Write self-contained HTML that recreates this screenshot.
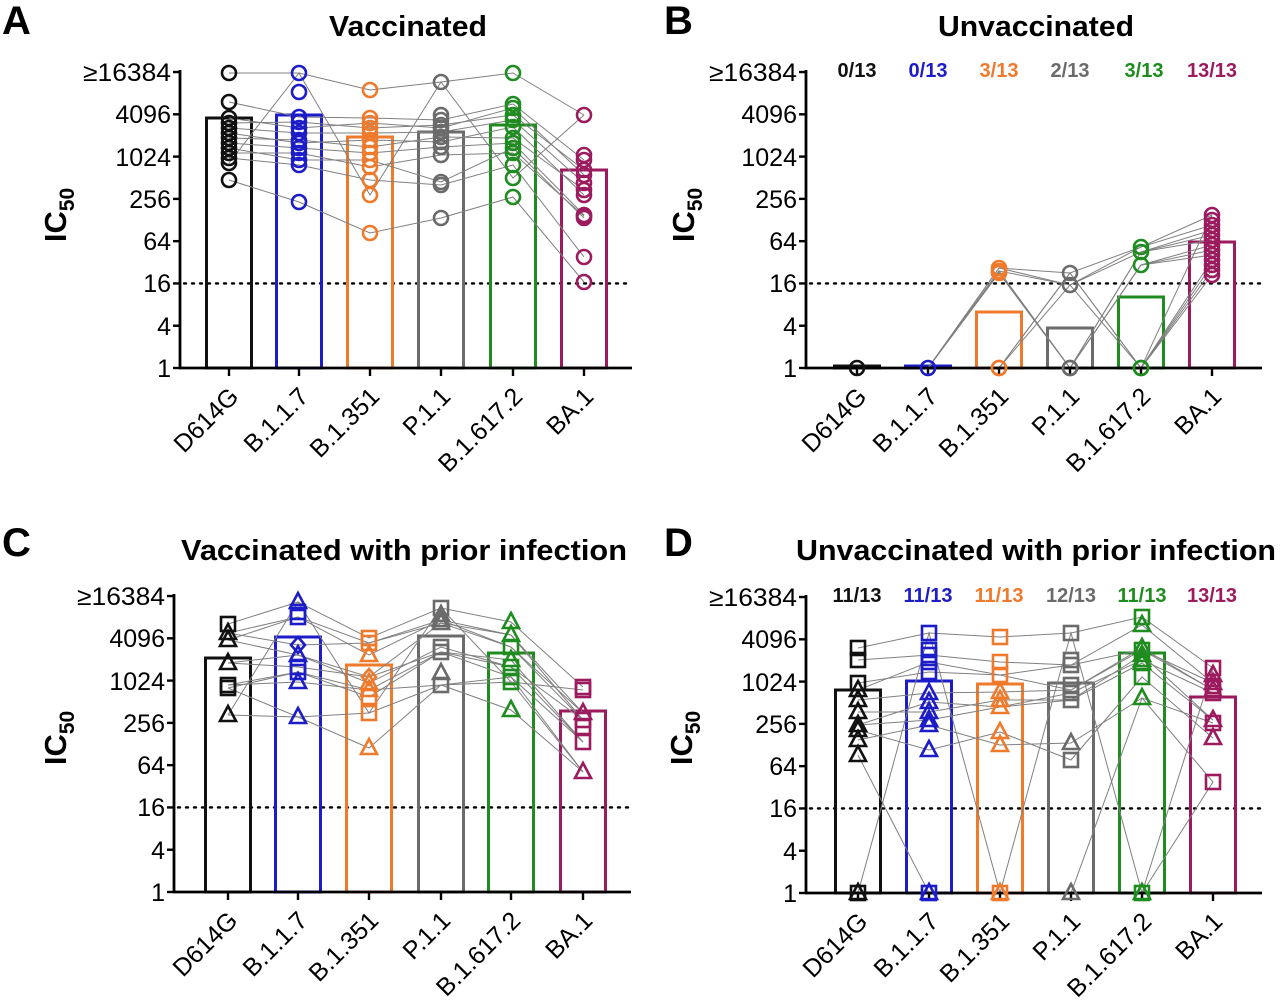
<!DOCTYPE html>
<html><head><meta charset="utf-8"><style>
html,body{margin:0;padding:0;background:#fff;}
svg{display:block;font-family:"Liberation Sans",Arial,sans-serif;}
.tk{font-size:25px;text-anchor:end;}
.xl{font-size:25px;text-anchor:end;}
.ttl{font-size:29px;font-weight:bold;text-anchor:middle;}
.let{font-size:40px;font-weight:bold;}
.ic{font-size:31px;font-weight:bold;text-anchor:middle;}
.cnt{font-size:20px;font-weight:bold;text-anchor:middle;}
</style></head><body>
<svg id="s" width="1280" height="1005" viewBox="0 0 1280 1005" xmlns="http://www.w3.org/2000/svg">
<rect width="1280" height="1005" fill="#fff"/>
<g id="dyn"></g>
<text class="let" x="2" y="34">A</text>
<text class="let" x="664" y="34">B</text>
<text class="let" x="2" y="556">C</text>
<text class="let" x="664" y="556">D</text>
<text class="ttl" x="408" y="36" textLength="158" lengthAdjust="spacingAndGlyphs">Vaccinated</text>
<text class="ttl" x="1036" y="36" textLength="196" lengthAdjust="spacingAndGlyphs">Unvaccinated</text>
<text class="ttl" x="404" y="560" textLength="446" lengthAdjust="spacingAndGlyphs">Vaccinated with prior infection</text>
<text class="ttl" x="1036" y="560" textLength="480" lengthAdjust="spacingAndGlyphs">Unvaccinated with prior infection</text>
<text class="ic" transform="translate(66,215) rotate(-90)">IC<tspan font-size="21" dy="8">50</tspan></text>
<text class="ic" transform="translate(694,215) rotate(-90)">IC<tspan font-size="21" dy="8">50</tspan></text>
<text class="ic" transform="translate(66,738) rotate(-90)">IC<tspan font-size="21" dy="8">50</tspan></text>
<text class="ic" transform="translate(692,738) rotate(-90)">IC<tspan font-size="21" dy="8">50</tspan></text>

<g transform="translate(180,368)">
<text class="tk" x="-9" y="9">1</text><text class="tk" x="-9" y="-33">4</text><text class="tk" x="-9" y="-76">16</text><text class="tk" x="-9" y="-118">64</text><text class="tk" x="-9" y="-160">256</text><text class="tk" x="-9" y="-202">1024</text><text class="tk" x="-9" y="-245">4096</text><text class="tk" x="-9" y="-287" textLength="88" lengthAdjust="spacingAndGlyphs">≥16384</text>
</g>
<g transform="translate(806,368)">
<text class="tk" x="-9" y="9">1</text><text class="tk" x="-9" y="-33">4</text><text class="tk" x="-9" y="-76">16</text><text class="tk" x="-9" y="-118">64</text><text class="tk" x="-9" y="-160">256</text><text class="tk" x="-9" y="-202">1024</text><text class="tk" x="-9" y="-245">4096</text><text class="tk" x="-9" y="-287" textLength="88" lengthAdjust="spacingAndGlyphs">≥16384</text>
</g>
<g transform="translate(174,892)">
<text class="tk" x="-9" y="9">1</text><text class="tk" x="-9" y="-33">4</text><text class="tk" x="-9" y="-76">16</text><text class="tk" x="-9" y="-118">64</text><text class="tk" x="-9" y="-160">256</text><text class="tk" x="-9" y="-202">1024</text><text class="tk" x="-9" y="-245">4096</text><text class="tk" x="-9" y="-287" textLength="88" lengthAdjust="spacingAndGlyphs">≥16384</text>
</g>
<g transform="translate(806,893)">
<text class="tk" x="-9" y="9">1</text><text class="tk" x="-9" y="-33">4</text><text class="tk" x="-9" y="-76">16</text><text class="tk" x="-9" y="-118">64</text><text class="tk" x="-9" y="-160">256</text><text class="tk" x="-9" y="-202">1024</text><text class="tk" x="-9" y="-245">4096</text><text class="tk" x="-9" y="-287" textLength="88" lengthAdjust="spacingAndGlyphs">≥16384</text>
</g>

<g>
<text class="xl" transform="translate(240,398) rotate(-45)">D614G</text>
<text class="xl" transform="translate(310,398) rotate(-45)">B.1.1.7</text>
<text class="xl" transform="translate(381,398) rotate(-45)">B.1.351</text>
<text class="xl" transform="translate(452,398) rotate(-45)">P.1.1</text>
<text class="xl" transform="translate(524,398) rotate(-45)">B.1.617.2</text>
<text class="xl" transform="translate(595,398) rotate(-45)">BA.1</text>

<text class="xl" transform="translate(868,398) rotate(-45)">D614G</text>
<text class="xl" transform="translate(939,398) rotate(-45)">B.1.1.7</text>
<text class="xl" transform="translate(1010,398) rotate(-45)">B.1.351</text>
<text class="xl" transform="translate(1081,398) rotate(-45)">P.1.1</text>
<text class="xl" transform="translate(1152,398) rotate(-45)">B.1.617.2</text>
<text class="xl" transform="translate(1223,398) rotate(-45)">BA.1</text>

<text class="xl" transform="translate(239,922) rotate(-45)">D614G</text>
<text class="xl" transform="translate(309,922) rotate(-45)">B.1.1.7</text>
<text class="xl" transform="translate(380,922) rotate(-45)">B.1.351</text>
<text class="xl" transform="translate(452,922) rotate(-45)">P.1.1</text>
<text class="xl" transform="translate(522,922) rotate(-45)">B.1.617.2</text>
<text class="xl" transform="translate(594,922) rotate(-45)">BA.1</text>

<text class="xl" transform="translate(869,923) rotate(-45)">D614G</text>
<text class="xl" transform="translate(940,923) rotate(-45)">B.1.1.7</text>
<text class="xl" transform="translate(1011,923) rotate(-45)">B.1.351</text>
<text class="xl" transform="translate(1082,923) rotate(-45)">P.1.1</text>
<text class="xl" transform="translate(1153,923) rotate(-45)">B.1.617.2</text>
<text class="xl" transform="translate(1224,923) rotate(-45)">BA.1</text>
</g>

<text class="cnt" x="857" y="77" fill="#111">0/13</text>
<text class="cnt" x="928" y="77" fill="#1c1cc8">0/13</text>
<text class="cnt" x="999" y="77" fill="#ef7a2c">3/13</text>
<text class="cnt" x="1070" y="77" fill="#6b6b6b">2/13</text>
<text class="cnt" x="1144" y="77" fill="#1e8c1e">3/13</text>
<text class="cnt" x="1212" y="77" fill="#9c1b5f">13/13</text>

<text class="cnt" x="857" y="602" fill="#111">11/13</text>
<text class="cnt" x="928" y="602" fill="#1c1cc8">11/13</text>
<text class="cnt" x="999" y="602" fill="#ef7a2c">11/13</text>
<text class="cnt" x="1071" y="602" fill="#6b6b6b">12/13</text>
<text class="cnt" x="1142" y="602" fill="#1e8c1e">11/13</text>
<text class="cnt" x="1212" y="602" fill="#9c1b5f">13/13</text>
</svg>
<script>
(function(){
var NS="http://www.w3.org/2000/svg";
var g=document.getElementById("dyn");
var C=['#111','#1c1cc8','#ef7a2c','#6b6b6b','#1e8c1e','#9c1b5f'];
function el(n,a){var e=document.createElementNS(NS,n);for(var k in a)e.setAttribute(k,a[k]);g.appendChild(e);return e;}
var P=[
{ax:180,yb:368,xe:632,cols:[229,299,370,441,513,584],bars:[118,115,137,132,125,170],
 pts:[[73,102,118,123,128,133,138,143,148,153,158,163,180],[73,92,117,122,133,148,153,160,165,202,128,140,143],[90,118,123,128,133,140,147,153,160,167,180,195,233],[82,115,120,125,132,137,142,155,182,185,218,128,147],[73,104,108,115,127,138,143,148,153,165,178,197,120],[115,155,160,170,183,195,215,218,257,282,175,190,216]],shape:'c'},
{ax:806,yb:368,xe:1262,cols:[857,928,999,1070,1141,1212],bars:[366,366,312,328,297,242],
 pts:[[368],[368],[268,271,273,368,368],[273,285,368,368],[247,252,265,368,368],[215,220,225,230,235,240,245,250,255,260,265,270,275]],shape:'c'},
{ax:174,yb:892,xe:631,cols:[228,298,369,441,511,583],bars:[658,637,665,636,653,711],
 pts:[['s624','t633','t640','t663','s685','s688','t715'],['t602','s612','s617','d645','t655','s667','s672','t682','t717'],['s638','s643','t655','d677','t683','t690','s697','s713','t748'],['s608','t615','t620','t623','s647','s652','t673','s685'],['t622','t635','s647','t660','s667','s677','s682','t710'],['s687','s690','t713','s720','s727','s742','t772']]},
{ax:806,yb:893,xe:1262,cols:[858,929,1000,1071,1142,1213],bars:[690,681,684,683,653,697],
 pts:[['s648','s660','s683','t690','t700','t712','t725','t730','t740','t755','s893','t893'],['s633','s650','s655','s662','s672','t693','t702','t712','t720','t725','t750','s893','t893'],['s637','s662','s675','t692','t700','t707','t732','t745','s893','t893'],['s633','s660','s665','s685','s693','s700','t743','s760','t893','s690'],['s617','t625','t648','t655','t660','t663','s677','t698','s893','t893','s650'],['s668','t675','t683','t690','s693','t720','s723','t738','s782','s686']]}
];
P.forEach(function(p){
 var s=21.14;
 el('line',{x1:p.ax+4,x2:p.xe,y1:p.yb-4*s,y2:p.yb-4*s,stroke:'#000','stroke-width':2.4,'stroke-dasharray':'2 6','stroke-linecap':'round'});
 p.cols.forEach(function(cx,i){
  el('rect',{x:cx-22.5,y:p.bars[i],width:45,height:Math.max(p.yb-p.bars[i],1),fill:'none',stroke:C[i],'stroke-width':3});
 });
 var cols=p.pts.map(function(a){return a.map(function(v){return typeof v==='number'?{s:'c',y:v}:{s:v[0],y:+v.slice(1)};}).sort(function(a,b){return a.y-b.y;});});
 var N=13;
 for(var k=0;k<N;k++){
  var d='';
  cols.forEach(function(c,i){var idx=Math.round(k*(c.length-1)/(N-1));var pt=c[(idx+(i%2?k%3:0))%c.length];d+=(i?'L':'M')+p.cols[i]+' '+pt.y;});
  el('path',{d:d,fill:'none',stroke:'#808080','stroke-width':1});
 }
 el('line',{x1:p.ax,x2:p.ax,y1:p.yb-14*s-2,y2:p.yb+1,stroke:'#000','stroke-width':2.8});
 el('line',{x1:p.ax-1,x2:p.xe,y1:p.yb,y2:p.yb,stroke:'#000','stroke-width':2.8});
 for(var t=0;t<8;t++)el('line',{x1:p.ax-7,x2:p.ax,y1:p.yb-t*2*s,y2:p.yb-t*2*s,stroke:'#000','stroke-width':2.4});
 p.cols.forEach(function(cx){el('line',{x1:cx,x2:cx,y1:p.yb,y2:p.yb+8,stroke:'#000','stroke-width':2.4});});
 cols.forEach(function(c,i){var cx=p.cols[i];c.forEach(function(m){
  var a={fill:'none',stroke:C[i],'stroke-width':2.6};
  if(m.s==='c'){a.cx=cx;a.cy=m.y;a.r=7;el('circle',a);}
  else if(m.s==='s'){a.x=cx-7;a.y=m.y-7;a.width=14;a.height=14;el('rect',a);}
  else if(m.s==='t'){a.points=(cx)+','+(m.y-9)+' '+(cx+8)+','+(m.y+6)+' '+(cx-8)+','+(m.y+6);el('polygon',a);}
  else {a.points=cx+','+(m.y-8)+' '+(cx+7)+','+m.y+' '+cx+','+(m.y+8)+' '+(cx-7)+','+m.y;el('polygon',a);}
 });});
});
})();
</script>
</body></html>
